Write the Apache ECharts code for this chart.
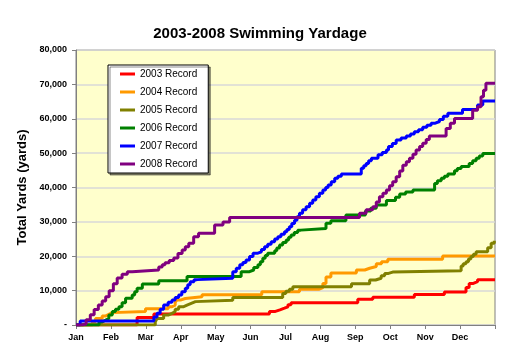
<!DOCTYPE html>
<html><head><meta charset="utf-8">
<script src="https://cdn.jsdelivr.net/npm/echarts@6/dist/echarts.min.js"></script>
<style>html,body{margin:0;padding:0;background:#fff}#c{width:520px;height:364px}</style>
</head><body><div id="c"></div>
<script>
const months = ['Jan','Feb','Mar','Apr','May','Jun','Jul','Aug','Sep','Oct','Nov','Dec'];
const seriesNames = ['2003 Record','2004 Record','2005 Record','2006 Record','2007 Record','2008 Record'];
const colors = ['#FF0000','#FF9900','#808000','#008000','#0000FF','#800080'];
// [month position (0 = Jan 1), cumulative yards]
const y2003 = [[0,0],[1.75,2200],[2.23,3200],[5.54,3900],[5.69,4400],[5.84,4900],[5.97,5300],[6.07,5900],[6.16,6500],[8.07,7500],[8.5,8100],[9.69,8900],[10.55,9600],[11.17,10900],[11.26,12100],[11.38,12600],[11.5,13200],[12,13200]];
const y2004 = [[0,0],[0.47,1000],[0.56,1900],[0.75,2600],[0.84,3100],[0.94,3600],[1.04,3900],[1.99,4700],[2.64,5300],[2.75,5800],[2.84,6600],[2.89,7300],[3.01,7700],[3.13,8200],[3.61,8800],[5.32,9700],[6.4,10400],[6.95,10900],[7.07,12100],[7.16,14000],[7.3,15100],[8.03,16000],[8.27,16500],[8.41,17000],[8.6,17800],[8.75,18400],[8.93,19100],[10.5,20100],[12,20100]];
const y2005 = [[0,0],[2.27,900],[2.32,1900],[2.51,2900],[2.64,3400],[2.75,3900],[2.84,4600],[2.94,5300],[3.07,5800],[3.18,6300],[3.3,6800],[3.42,7200],[4.49,8000],[5.92,9200],[6.01,9800],[6.11,10400],[6.21,11100],[7.89,12000],[8.41,13100],[8.58,13600],[8.74,14300],[8.84,15000],[8.95,15400],[9.07,15800],[11.03,17200],[11.09,17800],[11.17,18400],[11.24,19200],[11.31,19900],[11.38,20600],[11.46,21300],[11.79,22500],[11.89,23800],[11.98,24500],[12,24500]];
const y2006 = [[0,0],[0.66,900],[0.75,1400],[0.85,1900],[0.94,2900],[1.04,3900],[1.13,4600],[1.23,5300],[1.32,6500],[1.42,7800],[1.61,8700],[1.68,9700],[1.75,10700],[1.9,11900],[2.37,12900],[3.18,14100],[4.73,15500],[4.97,16000],[5.09,16700],[5.21,17500],[5.28,18400],[5.35,19400],[5.42,20200],[5.49,20900],[5.69,21600],[5.75,22400],[5.83,23300],[5.92,24000],[6.02,24700],[6.09,25500],[6.16,26200],[6.25,26900],[6.35,27600],[6.44,28100],[7.16,29600],[7.3,30300],[7.73,32000],[8.29,33200],[8.44,34000],[8.6,34900],[8.89,36200],[9.15,37200],[9.27,38100],[9.44,38700],[9.65,39300],[10.27,41200],[10.35,42000],[10.46,42700],[10.55,43300],[10.65,43900],[10.84,44900],[10.92,45500],[11.03,46100],[11.26,47000],[11.36,47800],[11.46,48500],[11.55,49200],[11.65,49900],[12,49900]];
const y2007 = [[0,0],[0.12,1200],[2.23,2300],[2.32,3400],[2.41,4600],[2.51,5800],[2.64,6600],[2.75,7300],[2.84,8000],[2.94,8700],[3.03,9700],[3.13,10700],[3.2,11700],[3.27,12600],[3.38,13200],[3.47,13600],[4.49,15500],[4.59,16500],[4.69,17500],[4.78,18200],[4.87,18900],[4.97,19900],[5.07,20900],[5.21,21300],[5.31,22000],[5.4,22800],[5.49,23500],[5.59,24200],[5.69,25000],[5.78,25700],[5.87,26400],[5.97,27100],[6.04,27800],[6.11,28600],[6.18,29500],[6.26,30500],[6.33,31500],[6.4,32500],[6.49,33500],[6.59,34400],[6.69,35400],[6.78,36400],[6.87,37300],[6.97,38300],[7.07,39300],[7.15,40000],[7.22,40700],[7.31,41700],[7.41,42700],[7.5,43300],[7.6,43900],[8.17,45600],[8.24,46300],[8.31,47000],[8.38,47800],[8.46,48500],[8.65,49500],[8.77,50200],[8.89,50900],[8.95,51900],[9.06,52800],[9.17,53800],[9.31,54400],[9.46,55000],[9.58,55600],[9.69,56200],[9.81,56800],[9.93,57500],[10.05,58100],[10.17,58700],[10.29,59200],[10.41,59800],[10.52,60700],[10.65,61600],[11.07,62700],[11.5,64000],[11.65,65200],[12,65200]];
const y2008 = [[0,0],[0.18,300],[0.29,1500],[0.41,3000],[0.52,4500],[0.64,5800],[0.75,7000],[0.85,8200],[0.95,10000],[1.07,12000],[1.18,13700],[1.32,14800],[1.47,15500],[1.61,16000],[2.37,16900],[2.47,17500],[2.55,18100],[2.67,18800],[2.8,19500],[2.92,20800],[3.04,21800],[3.13,22800],[3.23,23800],[3.37,25700],[3.51,26700],[3.97,29100],[4.21,30000],[4.4,31300],[8.12,32500],[8.31,33500],[8.5,34400],[8.6,35800],[8.69,37300],[8.79,38300],[8.89,39300],[8.98,40500],[9.07,41700],[9.17,43100],[9.27,44800],[9.36,46500],[9.46,47500],[9.55,48500],[9.65,49700],[9.74,50900],[9.84,51900],[9.93,52900],[10.03,54000],[10.12,55000],[10.6,57200],[10.72,58700],[10.84,60100],[11.36,62500],[11.5,63500],[11.6,66400],[11.67,68300],[11.74,70300],[12,70300]];
const allData = [y2003,y2004,y2005,y2006,y2007,y2008];

const chart = echarts.init(document.getElementById('c'), null, {renderer:'canvas'});
const font = 'Arial, "Liberation Sans", sans-serif';
chart.setOption({
  animation:false,
  backgroundColor:'#ffffff',
  title:{text:'2003-2008 Swimming Yardage',left:'center',top:21,
    textStyle:{fontFamily:font,fontSize:15,fontWeight:'bold',color:'#000'}},
  grid:{left:76,right:25,top:50,bottom:39,show:true,backgroundColor:'#FFFFCC',borderColor:'#808080',borderWidth:1},
  legend:{orient:'vertical',left:108,top:65,padding:[3,11,3,12],itemGap:6,
    itemWidth:15,itemHeight:3,icon:'rect',backgroundColor:'#ffffff',borderColor:'#000',borderWidth:1,
    shadowColor:'rgba(0,0,0,0.45)',shadowBlur:0,shadowOffsetX:2,shadowOffsetY:2,
    textStyle:{fontFamily:font,fontSize:10,color:'#000',lineHeight:12},
    data:seriesNames},
  xAxis:{type:'value',min:0,max:12,interval:1,
    axisLine:{show:true,lineStyle:{color:'#808080',width:1}},
    axisTick:{show:true,inside:false,length:4,lineStyle:{color:'#808080'}},
    splitLine:{show:false},
    axisLabel:{margin:8,fontFamily:font,fontSize:9,fontWeight:'bold',color:'#000',
      formatter:v=>v<12?months[v]:''}},
  yAxis:{type:'value',min:0,max:80000,interval:10000,
    name:'Total Yards (yards)',nameLocation:'middle',nameGap:41,
    nameTextStyle:{fontFamily:font,fontSize:13,fontWeight:'bold',color:'#000'},
    axisLine:{show:true,lineStyle:{color:'#808080',width:1}},
    axisTick:{show:true,inside:false,length:4,lineStyle:{color:'#808080'}},
    splitLine:{show:true,lineStyle:{color:'#D8D8D8',width:1.5}},
    axisLabel:{margin:9,fontFamily:font,fontSize:9,fontWeight:'bold',color:'#000',
      formatter:v=>v===0?'-':v.toLocaleString('en-US')}},
  series:allData.map((d,i)=>({name:seriesNames[i],type:'line',step:'end',data:d,
    showSymbol:false,symbol:'none',lineStyle:{width:3,color:colors[i]},itemStyle:{color:colors[i]}}))
});
</script></body></html>
